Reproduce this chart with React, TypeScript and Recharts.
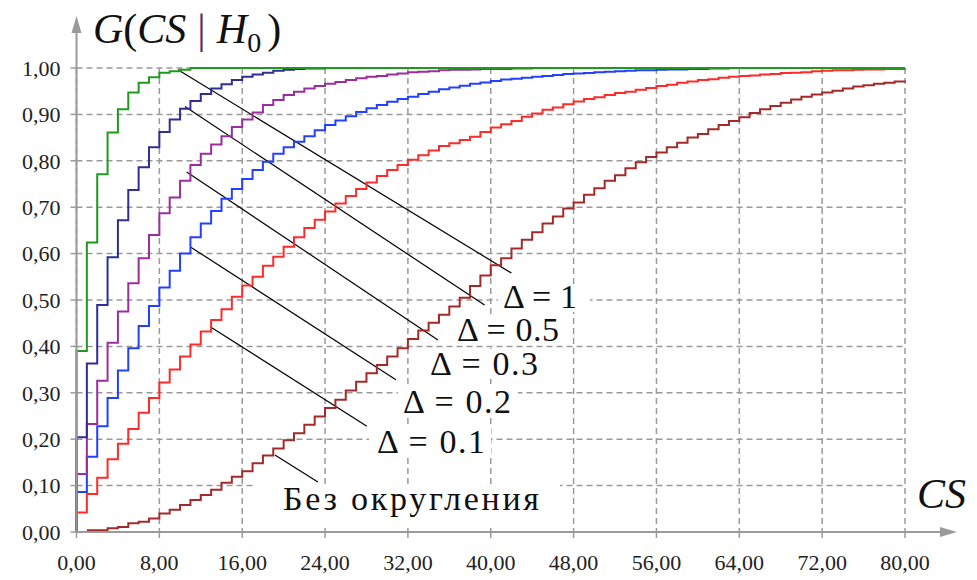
import React from 'react';
import { LineChart, Line, XAxis, YAxis, CartesianGrid, ReferenceLine } from 'recharts';

// CS values are integers; each array starts at the x given next to it
const X_MAX = 80;

const round1Start = 0; // Δ = 1
const round1 = [0, 0.39, 0.624, 0.771, 0.861, 0.911, 0.947, 0.968, 0.98, 0.99, 0.993, 0.996, 1.0];

const round05Start = 0; // Δ = 0.5
const round05 = [0, 0.204, 0.363, 0.489, 0.592, 0.672, 0.737, 0.786, 0.829, 0.862, 0.889, 0.912, 0.929, 0.944,
  0.956, 0.965, 0.974, 0.981, 0.986, 0.99, 0.994, 0.996, 0.998, 0.999, 0.999, 1.0, 1.0];

const round03Start = 0; // Δ = 0.3
const round03 = [0, 0.125, 0.233, 0.326, 0.408, 0.475, 0.536, 0.59, 0.64, 0.687, 0.721, 0.757, 0.791, 0.815,
  0.835, 0.853, 0.873, 0.889, 0.904, 0.92, 0.931, 0.942, 0.949, 0.956, 0.961, 0.966, 0.97, 0.974, 0.978,
  0.981, 0.983, 0.986, 0.988, 0.991, 0.992, 0.993, 0.995, 0.996, 0.996, 0.997, 0.998, 0.998, 0.998, 0.999,
  0.999, 1.0];

const round02Start = 0; // Δ = 0.2
const round02 = [0, 0.086, 0.162, 0.228, 0.289, 0.348, 0.396, 0.444, 0.487, 0.527, 0.563, 0.6, 0.635, 0.665,
  0.692, 0.718, 0.739, 0.761, 0.78, 0.798, 0.815, 0.829, 0.841, 0.853, 0.866, 0.877, 0.887, 0.896, 0.905,
  0.913, 0.92, 0.927, 0.933, 0.938, 0.944, 0.949, 0.954, 0.958, 0.962, 0.966, 0.969, 0.972, 0.975, 0.977,
  0.979, 0.981, 0.983, 0.985, 0.987, 0.988, 0.989, 0.991, 0.992, 0.993, 0.994, 0.995, 0.995, 0.996, 0.997,
  0.997, 0.998, 0.998, 0.999, 0.999, 1.0];

const round01Start = 0; // Δ = 0.1
const round01 = [0, 0.042, 0.082, 0.117, 0.157, 0.19, 0.222, 0.257, 0.289, 0.322, 0.35, 0.378, 0.404, 0.432,
  0.457, 0.48, 0.507, 0.531, 0.55, 0.574, 0.593, 0.615, 0.635, 0.655, 0.673, 0.691, 0.708, 0.724, 0.739,
  0.753, 0.767, 0.78, 0.791, 0.802, 0.812, 0.822, 0.832, 0.838, 0.845, 0.852, 0.862, 0.872, 0.879, 0.886,
  0.895, 0.902, 0.91, 0.915, 0.922, 0.928, 0.933, 0.937, 0.942, 0.946, 0.949, 0.953, 0.957, 0.961, 0.964,
  0.968, 0.971, 0.974, 0.976, 0.979, 0.981, 0.983, 0.984, 0.986, 0.987, 0.989, 0.99, 0.991, 0.993, 0.994,
  0.995, 0.995, 0.996, 0.997, 0.997, 0.998, 0.998, 0.999];

const exactStart = 1; // без округления
const exact = [0.004, 0.004, 0.008, 0.011, 0.019, 0.022, 0.029, 0.04, 0.048, 0.058, 0.069, 0.08, 0.091, 0.106,
  0.119, 0.131, 0.148, 0.165, 0.18, 0.198, 0.213, 0.231, 0.249, 0.267, 0.285, 0.305, 0.324, 0.342, 0.36,
  0.378, 0.396, 0.416, 0.434, 0.451, 0.468, 0.486, 0.505, 0.53, 0.553, 0.575, 0.59, 0.611, 0.63, 0.646,
  0.665, 0.68, 0.697, 0.71, 0.727, 0.741, 0.757, 0.769, 0.784, 0.797, 0.808, 0.818, 0.829, 0.839, 0.85,
  0.858, 0.868, 0.877, 0.886, 0.894, 0.903, 0.911, 0.918, 0.925, 0.932, 0.938, 0.943, 0.947, 0.951, 0.956,
  0.96, 0.963, 0.966, 0.968, 0.971, 0.973];

const xTicks = [0, 8, 16, 24, 32, 40, 48, 56, 64, 72, 80];
const yTicks = [0, 0.1, 0.2, 0.3, 0.4, 0.5, 0.6, 0.7, 0.8, 0.9, 1.0];

// leader lines from each curve to its label: [x1, y1, x2, y2]
const leaders = [
  [9.8, 0.996, 42.0, 0.558],
  [10.47, 0.917, 39.4, 0.489],
  [10.64, 0.776, 34.9, 0.414],
  [10.96, 0.615, 30.84, 0.328],
  [12.95, 0.442, 28.04, 0.228],
  [19.16, 0.166, 23.31, 0.108],
];

// first x in a round series duplicates 0 to get the vertical rise at CS = 0
const toPoints = (values: number[], start: number, dupZero: boolean) => {
  const pts = values.map((y, i) => ({ x: dupZero ? Math.max(0, start + i - 1) : start + i, y }));
  const last = pts[pts.length - 1];
  if (last.x < X_MAX) pts.push({ x: X_MAX, y: last.y });
  return pts;
};

const series = [
  { name: 'exact', data: toPoints(exact, exactStart, false), color: '#a32a2a' },
  { name: 'd01', data: toPoints(round01, round01Start, true), color: '#ff2a2a' },
  { name: 'd02', data: toPoints(round02, round02Start, true), color: '#2440ff' },
  { name: 'd03', data: toPoints(round03, round03Start, true), color: '#9a2e9e' },
  { name: 'd05', data: toPoints(round05, round05Start, true), color: '#2e2e96' },
  { name: 'd1', data: toPoints(round1, round1Start, true), color: '#1f9a1f' },
];

const fmt = (v: number) => v.toFixed(2).replace('.', ',');

const FONT = "'Liberation Serif', 'Times New Roman', Tinos, 'DejaVu Serif', 'Noto Serif', serif";
const AXIS = '#9a9a9a';
const serif = { fontFamily: FONT };

const labels = [
  { text: 'Δ = 1', x: 503, y: 308, w: 74, box: [498, 284, 92, 28] },
  { text: 'Δ = 0.5', x: 457, y: 341, w: 102, box: [452, 316, 112, 29] },
  { text: 'Δ = 0.3', x: 430, y: 375, w: 108, box: [424, 349, 120, 30] },
  { text: 'Δ = 0.2', x: 403, y: 413, w: 108, box: [398, 388, 120, 29] },
  { text: 'Δ = 0.1', x: 377, y: 453, w: 108, box: [369, 428, 122, 29] },
  { text: 'Без округления', x: 283, y: 510, w: 256, box: [253, 484, 307, 44] },
];

export default function App() {
  return (
    <div style={{ position: 'absolute', left: 0, top: 0, width: 977, height: 580, background: '#fff', ...serif }}>
      <LineChart width={977} height={580} margin={{ top: 68, right: 72, bottom: 18, left: 16 }} style={serif}>
        <CartesianGrid stroke={AXIS} strokeDasharray="6 4" strokeWidth={1.5} />
        <XAxis
          dataKey="x"
          type="number"
          domain={[0, X_MAX]}
          ticks={xTicks}
          tickFormatter={fmt}
          height={30}
          tickSize={6}
          tickMargin={16}
          interval={0}
          tick={{ fontSize: 22, fill: '#222', style: serif }}
          axisLine={{ stroke: AXIS, strokeWidth: 2 }}
          tickLine={{ stroke: AXIS, strokeWidth: 1.5 }}
        />
        <YAxis
          type="number"
          domain={[0, 1]}
          ticks={yTicks}
          tickFormatter={fmt}
          width={60.5}
          tickSize={6}
          tickMargin={10}
          interval={0}
          tick={{ fontSize: 22, fill: '#222', style: serif }}
          axisLine={{ stroke: AXIS, strokeWidth: 2 }}
          tickLine={{ stroke: AXIS, strokeWidth: 1.5 }}
        />
        {leaders.map(([x1, y1, x2, y2], i) => (
          <ReferenceLine
            key={`leader-${i}`}
            segment={[{ x: x1, y: y1 }, { x: x2, y: y2 }]}
            stroke="#000"
            strokeWidth={1.2}
          />
        ))}
        {series.map((s) => (
          <Line
            key={s.name}
            data={s.data}
            dataKey="y"
            type="stepAfter"
            stroke={s.color}
            strokeWidth={2}
            dot={false}
            activeDot={false}
            isAnimationActive={false}
          />
        ))}
      </LineChart>
      <svg width={977} height={580} style={{ position: 'absolute', left: 0, top: 0, pointerEvents: 'none', ...serif }}>
        {/* axis arrows */}
        <line x1={76.5} y1={69} x2={76.5} y2={30} stroke={AXIS} strokeWidth={2} />
        <polygon points="71.5,33 76.5,16 81.5,33" fill={AXIS} />
        <line x1={904} y1={532} x2={942} y2={532} stroke={AXIS} strokeWidth={2} />
        <polygon points="940,527 957,532 940,537" fill={AXIS} />

        <text x={93} y={43} fontSize={42} fill="#111" style={serif}>
          <tspan fontStyle="italic">G</tspan>
          <tspan>(</tspan>
          <tspan fontStyle="italic">CS</tspan>
          <tspan fill="#5b2a66" dx={11}>|</tspan>
          <tspan fontStyle="italic" dx={11}>H</tspan>
          <tspan fontSize={28} dy={9}>0</tspan>
          <tspan dy={-9} dx={6}>)</tspan>
        </text>
        <text x={917} y={508} fontSize={42} fontStyle="italic" fill="#111" style={serif}>CS</text>

        {labels.map((l) => (
          <g key={l.text}>
            <rect x={l.box[0]} y={l.box[1]} width={l.box[2]} height={l.box[3]} fill="#fff" />
            <text x={l.x} y={l.y} fontSize={34} fill="#111" textLength={l.w} lengthAdjust="spacing" style={serif}>
              {l.text}
            </text>
          </g>
        ))}
      </svg>
    </div>
  );
}
